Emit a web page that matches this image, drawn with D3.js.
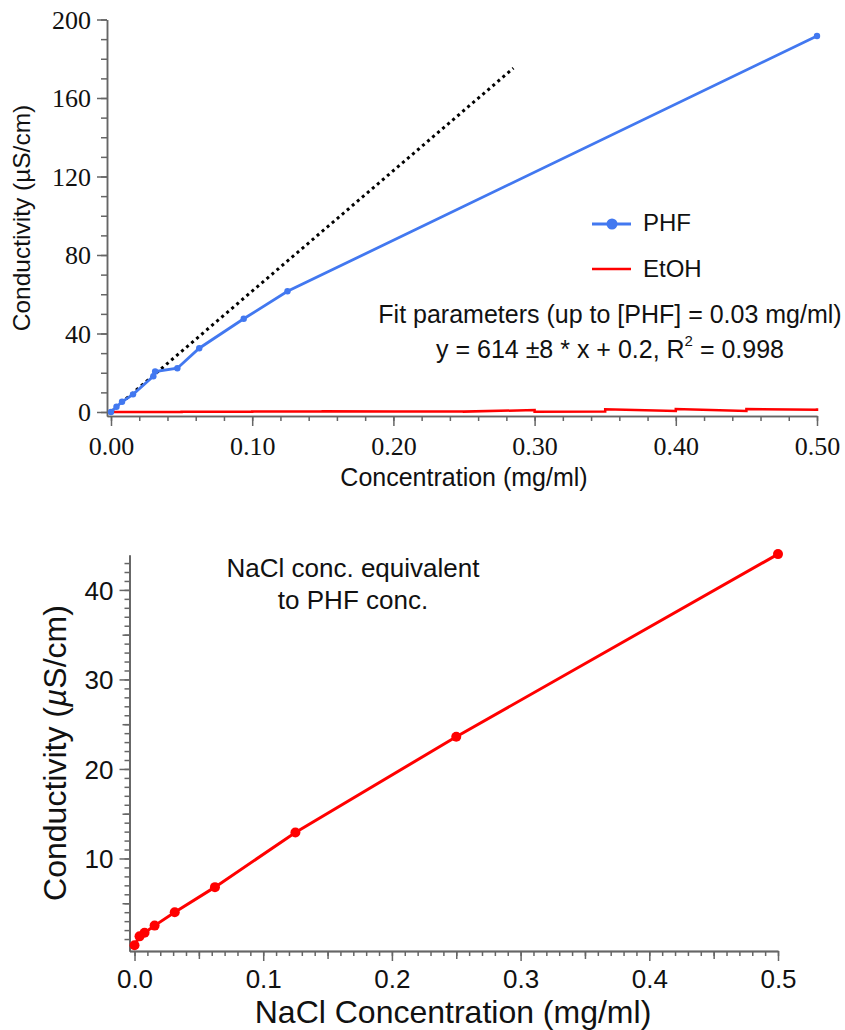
<!DOCTYPE html>
<html>
<head>
<meta charset="utf-8">
<script src="https://cdn.jsdelivr.net/npm/d3@7"></script>
<style>
  html, body { margin: 0; padding: 0; background: #fff; }
  svg { display: block; }
  .sans { font-family: "Liberation Sans", Arial, Helvetica, sans-serif; }
  .serif { font-family: "Liberation Serif", "Times New Roman", serif; }
</style>
</head>
<body>
<svg id="chart" width="845" height="1030"></svg>
<script>
// ---- Upper panel: PHF and EtOH conductivity ----
const phfConc = [0, 0.0039, 0.0078, 0.0156, 0.030, 0.03125, 0.047, 0.0625, 0.094, 0.125, 0.5];
const phfCond = [0, 2.7, 5.2, 9.0, 18.2, 20.6, 22.3, 32.5, 47.5, 61.5, 191.6];

const etohConc = [0, 0.05, 0.05, 0.10, 0.10, 0.15, 0.15, 0.20, 0.20, 0.25, 0.25, 0.30, 0.30, 0.35, 0.35, 0.40, 0.40, 0.45, 0.45, 0.50, 0.50];
const etohCond = [0, 0.0, 0.1, 0.1, 0.3, 0.3, 0.4, 0.3, 0.2, 0.3, 0.2, 1.0, 0.1, 0.3, 1.4, 0.5, 1.5, 0.5, 1.5, 1.1, 1.9];

// linear fit over the low-concentration range
const fitSlope = 614;
const fitIntercept = 0.2;
const fitRange = [0, 0.285];

const topXTicks = [0, 0.1, 0.2, 0.3, 0.4, 0.5];
const topYTicks = [0, 40, 80, 120, 160, 200];

// ---- Lower panel: NaCl calibration ----
const naclConc = [0, 0.0039, 0.0078, 0.0156, 0.03125, 0.0625, 0.125, 0.25, 0.5];
const naclCond = [0.3, 1.3, 1.7, 2.5, 4.0, 6.8, 12.9, 23.6, 44.0];

const botXTicks = [0, 0.1, 0.2, 0.3, 0.4, 0.5];
const botYTicks = [10, 20, 30, 40];

const BLUE = "#4278f0";
const RED = "#ff0000";
const AXIS = "#666";

const svg = d3.select("#chart");

function styleAxis(g, width) {
  g.select(".domain").attr("stroke", AXIS).attr("stroke-width", width);
  g.selectAll(".tick line").attr("stroke", AXIS).attr("stroke-width", width);
}

// ================= Upper panel =================
const xTop = d3.scaleLinear().domain([-0.00283, 0.5]).range([107, 817]);
const yTop = d3.scaleLinear().domain([-2.04, 200]).range([416, 19.5]);

// minor ticks
const gxTopMinor = svg.append("g").attr("transform", "translate(0,416)")
  .call(d3.axisBottom(xTop).tickValues(d3.range(0, 0.5001, 0.02)).tickSize(5).tickSizeOuter(0).tickFormat(""));
styleAxis(gxTopMinor, 1.5);
const gyTopMinor = svg.append("g").attr("transform", "translate(107,0)")
  .call(d3.axisLeft(yTop).tickValues(d3.range(0, 200.1, 10)).tickSize(6).tickSizeOuter(0).tickFormat(""));
styleAxis(gyTopMinor, 1.5);

// major ticks with labels
const gxTop = svg.append("g").attr("transform", "translate(0,416)")
  .call(d3.axisBottom(xTop).tickValues(topXTicks).tickSize(10).tickSizeOuter(0).tickFormat(d3.format(".2f")));
styleAxis(gxTop, 1.5);
gxTop.selectAll(".tick text").attr("class", "serif").attr("y", 39).attr("dy", null)
  .attr("font-size", 26).attr("fill", "#111");

const gyTop = svg.append("g").attr("transform", "translate(107,0)")
  .call(d3.axisLeft(yTop).tickValues(topYTicks).tickSize(10).tickSizeOuter(0).tickFormat(d3.format("d")));
styleAxis(gyTop, 1.5);
gyTop.selectAll(".tick text").attr("class", "serif").attr("x", -16).attr("dy", "0.33em")
  .attr("font-size", 26).attr("fill", "#111");

// axis titles
svg.append("text").attr("class", "sans")
  .attr("transform", "translate(30,218) rotate(-90)")
  .attr("text-anchor", "middle").attr("font-size", 24.5).attr("fill", "#111")
  .text("Conductivity (µS/cm)");
svg.append("text").attr("class", "sans")
  .attr("x", 464).attr("y", 486).attr("text-anchor", "middle")
  .attr("font-size", 25).attr("fill", "#111")
  .text("Concentration (mg/ml)");

// EtOH trace
const lineTop = d3.line().x(d => xTop(d[0])).y(d => yTop(d[1]));
svg.append("path")
  .datum(d3.zip(etohConc, etohCond))
  .attr("d", lineTop).attr("fill", "none").attr("stroke", RED).attr("stroke-width", 2.5);

// fit line (dotted)
svg.append("path")
  .datum(fitRange.map(x => [x, fitSlope * x + fitIntercept]))
  .attr("d", lineTop).attr("fill", "none").attr("stroke", "#000")
  .attr("stroke-width", 3).attr("stroke-dasharray", "3,3.6");

// PHF trace
const phfData = d3.zip(phfConc, phfCond);
svg.append("path")
  .datum(phfData)
  .attr("d", lineTop).attr("fill", "none").attr("stroke", BLUE).attr("stroke-width", 2.8);
svg.append("g").selectAll("circle").data(phfData).join("circle")
  .attr("cx", d => xTop(d[0])).attr("cy", d => yTop(d[1])).attr("r", 3.2)
  .attr("fill", BLUE);

// legend
const lg = svg.append("g");
lg.append("line").attr("x1", 592).attr("x2", 631).attr("y1", 224).attr("y2", 224)
  .attr("stroke", BLUE).attr("stroke-width", 2.8);
lg.append("circle").attr("cx", 612).attr("cy", 224).attr("r", 5.5).attr("fill", BLUE);
lg.append("text").attr("class", "sans").attr("x", 643).attr("y", 231)
  .attr("font-size", 24).attr("fill", "#111").text("PHF");
lg.append("line").attr("x1", 592).attr("x2", 631).attr("y1", 269).attr("y2", 269)
  .attr("stroke", RED).attr("stroke-width", 2.5);
lg.append("text").attr("class", "sans").attr("x", 643).attr("y", 277)
  .attr("font-size", 24).attr("fill", "#111").text("EtOH");

// fit annotation
svg.append("text").attr("class", "sans").attr("x", 610).attr("y", 323)
  .attr("text-anchor", "middle").attr("font-size", 25).attr("fill", "#111")
  .text("Fit parameters (up to [PHF] = 0.03 mg/ml)");
const eq = svg.append("text").attr("class", "sans").attr("x", 610).attr("y", 358)
  .attr("text-anchor", "middle").attr("font-size", 25).attr("fill", "#111");
eq.append("tspan").text(`y = ${fitSlope} ±8 * x + ${fitIntercept}, R`);
eq.append("tspan").attr("font-size", 15).attr("dy", -12).text("2");
eq.append("tspan").attr("dy", 12).text(" = 0.998");

// ================= Lower panel =================
const xBot = d3.scaleLinear().domain([-0.0039, 0.5]).range([129.5, 778]);
const yBot = d3.scaleLinear().domain([-0.335, 43.9]).range([951, 555]);

const gxBotMinor = svg.append("g").attr("transform", "translate(0,951)")
  .call(d3.axisBottom(xBot).tickValues(d3.range(0, 51, 1).map(i => i / 100)).tickSize(5).tickSizeOuter(0).tickFormat(""));
styleAxis(gxBotMinor, 1.5);
const gxBotMid = svg.append("g").attr("transform", "translate(0,951)")
  .call(d3.axisBottom(xBot).tickValues([0.05, 0.15, 0.25, 0.35, 0.45]).tickSize(8).tickSizeOuter(0).tickFormat(""));
styleAxis(gxBotMid, 1.5);
const gxBot = svg.append("g").attr("transform", "translate(0,951)")
  .call(d3.axisBottom(xBot).tickValues(botXTicks).tickSize(10).tickSizeOuter(0).tickFormat(d3.format(".1f")));
styleAxis(gxBot, 1.5);
gxBot.selectAll(".tick text").attr("class", "sans").attr("y", 37).attr("dy", null)
  .attr("font-size", 26).attr("fill", "#111");

const gyBotMinor = svg.append("g").attr("transform", "translate(129.5,0)")
  .call(d3.axisLeft(yBot).tickValues(d3.range(1, 44, 1)).tickSize(5).tickSizeOuter(0).tickFormat(""));
styleAxis(gyBotMinor, 1.5);
const gyBotMid = svg.append("g").attr("transform", "translate(129.5,0)")
  .call(d3.axisLeft(yBot).tickValues([5, 15, 25, 35]).tickSize(7).tickSizeOuter(0).tickFormat(""));
styleAxis(gyBotMid, 1.5);
const gyBot = svg.append("g").attr("transform", "translate(129.5,0)")
  .call(d3.axisLeft(yBot).tickValues(botYTicks).tickSize(10).tickSizeOuter(0).tickFormat(d3.format("d")));
styleAxis(gyBot, 1.5);
gyBot.selectAll(".tick text").attr("class", "sans").attr("x", -16).attr("dy", "0.36em")
  .attr("font-size", 26).attr("fill", "#111");

// axis titles
const yt = svg.append("text").attr("class", "sans")
  .attr("transform", "translate(66,753) rotate(-90)")
  .attr("text-anchor", "middle").attr("font-size", 32).attr("fill", "#111");
yt.append("tspan").text("Conductivity (");
yt.append("tspan").attr("font-style", "italic").text("µ");
yt.append("tspan").text("S/cm)");
svg.append("text").attr("class", "sans")
  .attr("x", 453).attr("y", 1023).attr("text-anchor", "middle")
  .attr("font-size", 32).attr("fill", "#111")
  .text("NaCl Concentration (mg/ml)");

// annotation
svg.append("text").attr("class", "sans").attr("x", 353).attr("y", 577)
  .attr("text-anchor", "middle").attr("font-size", 26).attr("fill", "#111")
  .text("NaCl conc. equivalent");
svg.append("text").attr("class", "sans").attr("x", 353).attr("y", 609)
  .attr("text-anchor", "middle").attr("font-size", 26).attr("fill", "#111")
  .text("to PHF conc.");

// NaCl trace
const naclData = d3.zip(naclConc, naclCond);
const lineBot = d3.line().x(d => xBot(d[0])).y(d => yBot(d[1]));
svg.append("path").datum(naclData)
  .attr("d", lineBot).attr("fill", "none").attr("stroke", RED).attr("stroke-width", 3);
svg.append("g").selectAll("circle").data(naclData).join("circle")
  .attr("cx", d => xBot(d[0])).attr("cy", d => yBot(d[1])).attr("r", 5)
  .attr("fill", RED);
</script>
</body>
</html>
